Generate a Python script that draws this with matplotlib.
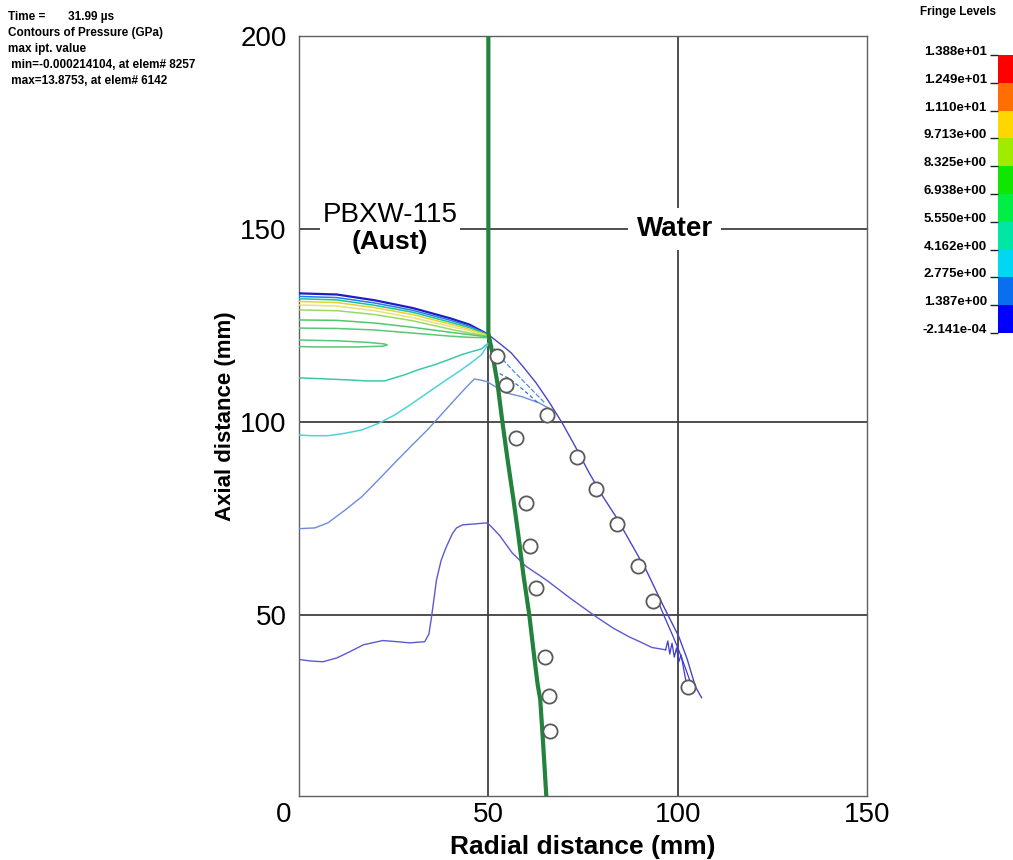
import numpy as np
import matplotlib
matplotlib.use("Agg")
import matplotlib.pyplot as plt
import matplotlib.transforms as mtransforms
from matplotlib.colors import ListedColormap

plt.rcParams['font.family'] = ['Liberation Sans', 'DejaVu Sans']

# ---- data (mm) ----
# material interface (green)
iface_x = [50, 50, 51, 52.4, 53.7, 55.1, 56.6, 58, 59.3, 60.8, 62, 63, 63.7, 64.5, 65.3]
iface_y = [200, 123, 118, 110, 100, 90, 80, 70, 60, 50, 40, 32, 28, 16, 3]

# test points (open circles)
circ_x = [52.4, 54.7, 65.5, 57.4, 73.4, 78.4, 84.0, 60.0, 61.1, 89.5, 62.6, 93.4, 65.0, 66.1, 66.3, 102.6]
circ_y = [117.1, 109.6, 101.8, 95.9, 90.9, 82.6, 73.6, 79.0, 67.9, 62.7, 57.0, 53.6, 39.1, 29.0, 19.9, 31.3]

# stacked contours near the detonation front in the explosive
stack_x = [0, 10, 20, 30, 40, 45, 50]
stack_y = {
    '#1c1cc8': [133.3, 133.0, 131.5, 129.5, 126.8, 125.2, 122.6],
    '#2a78e6': [132.5, 132.2, 130.8, 128.9, 126.3, 124.8, 122.6],
    '#10c896': [131.9, 131.6, 130.2, 128.4, 125.8, 124.4, 122.5],
    '#e6d232': [131.2, 130.9, 129.6, 127.8, 125.3, 124.0, 122.4],
    '#e8e27a': [130.3, 130.0, 128.8, 127.0, 124.7, 123.6, 122.3],
    '#96dc64': [129.0, 128.8, 127.8, 126.2, 124.0, 123.0, 122.2],
    '#50c86e': [126.4, 126.3, 125.6, 124.5, 123.2, 122.6, 122.0],
    '#58c878': [124.3, 124.2, 123.8, 123.0, 122.2, 121.9, 121.8],
}
tongue_x = [0, 10, 18, 22.5, 23.3, 22, 15, 5, 0]
tongue_y = [121.2, 121.0, 120.6, 120.2, 119.9, 119.6, 119.4, 119.4, 119.5]

teal_x = [0, 5, 12.1, 18, 22.6, 27.9, 31.5, 35.8, 39.5, 42.9, 46, 48.2, 50.3]
teal_y = [111.4, 111.2, 110.9, 110.6, 110.6, 112.2, 113.5, 114.8, 116.1, 117.4, 118.3, 118.9, 120.7]

cyan_x = [0, 3, 7.6, 12, 16.6, 21, 25.3, 29.5, 33.9, 38.5, 42.9, 46, 48.2, 50.3]
cyan_y = [96.6, 96.4, 96.4, 97, 97.9, 99.6, 101.8, 104.5, 107.5, 110.6, 113.5, 115.7, 117.4, 120.7]

lblue_x = [0, 4.2, 7.6, 12, 16.6, 21, 25.3, 29.5, 33.9, 37.5, 41.1, 44, 46.3, 48, 49.7,
           52, 54.7, 58.9, 63.4, 66]
lblue_y = [72.3, 72.5, 73.8, 77, 80.6, 85, 89.4, 93.6, 97.9, 101.8, 105.7, 108.8, 111.1, 110.8, 110.4,
           109, 107.5, 106.5, 104.9, 103.5]

low_x = [0, 3, 6.3, 10, 13.4, 17, 22.1, 26, 29.2, 33.2, 34.3, 35, 36.3, 37.5, 38.9, 40.5, 41.6, 43.2,
         46, 49.5, 50.3, 53, 56.3, 60, 65.3, 72, 78.4, 83, 87.1, 90, 93.2, 96.8]
low_y = [38.4, 38.0, 37.8, 38.8, 40.4, 42.2, 43.3, 43.0, 42.7, 43.0, 45, 49.5, 59, 64, 67.6, 71, 72.5, 73.3,
         73.5, 73.8, 73.3, 70.5, 66, 62.5, 59, 54, 49.5, 46.5, 44.3, 43, 41.5, 40.9]

# lead shock in water
front_x = [50, 53, 56, 59, 62.6, 66, 69.5, 73, 76.6, 80, 83.7, 87.5, 91.6, 95.8, 100.3, 102.5, 104.7, 106.3]
front_y = [122.6, 120.3, 117.9, 114.5, 110.1, 105.2, 99.7, 93.5, 86.8, 81, 75.4, 68.8, 61.7, 53.1, 44.3,
           38.5, 31.3, 28.5]

# noisy short contours behind the shock
noise_a_x = [50.5, 53, 56, 59, 62, 65]
noise_a_y = [120.5, 117, 113.8, 110.8, 107.8, 104.8]
noise_b_x = [53, 55.5, 58, 60.5, 63]
noise_b_y = [112.5, 111.2, 109.3, 107.2, 105]
noise_c_x = [95.2, 96.8, 98.5, 100.2, 101.8, 103.4]
noise_c_y = [52.5, 48.8, 45, 41, 36.8, 32.4]
noise_d_x = [96.8, 97.4, 97.9, 98.5, 99.1, 99.7, 100.3, 100.9, 101.6, 102.1]
noise_d_y = [40.9, 43.2, 39.8, 42.6, 39.0, 41.4, 37.8, 39.6, 35.8, 33.2]

# fringe levels / colour bar
levels = [-2.141e-04, 1.387, 2.775, 4.162, 5.550, 6.938, 8.325, 9.713, 11.10, 12.49, 13.88]
level_labels = ['-2.141e-04', '1.387e+00', '2.775e+00', '4.162e+00', '5.550e+00', '6.938e+00',
                '8.325e+00', '9.713e+00', '1.110e+01', '1.249e+01', '1.388e+01']
band_colors = ['#0000ff', '#0a6ef0', '#00d7f5', '#00e6a5', '#00ef46', '#10e600',
               '#a0eb00', '#ffd700', '#ff6e00', '#ff0000']

info_lines = ['Time =       31.99 \u00b5s',
              'Contours of Pressure (GPa)',
              'max ipt. value',
              ' min=-0.000214104, at elem# 8257',
              ' max=13.8753, at elem# 6142']

# ---- figure ----
fig = plt.figure(figsize=(10.13, 8.6), dpi=100)
ax = fig.add_axes([0.2952, 0.0744, 0.5607, 0.8837])
ax.set_xlim(0, 150)
ax.set_ylim(3, 200)

grid_c = '#404040'
for gx in [50, 100]:
    ax.axvline(gx, color=grid_c, lw=1.3, zorder=1)
for gy in [50, 100, 150]:
    ax.axhline(gy, color=grid_c, lw=1.3, zorder=1)

for c, ys in stack_y.items():
    ax.plot(stack_x, ys, color=c, lw=1.6 if c == '#1c1cc8' else 1.1, zorder=3)
ax.plot(tongue_x, tongue_y, color='#58c878', lw=1.1, zorder=3)
ax.plot(teal_x, teal_y, color='#3cc8aa', lw=1.1, zorder=3)
ax.plot(cyan_x, cyan_y, color='#50d2dc', lw=1.1, zorder=3)
ax.plot(lblue_x, lblue_y, color='#6e8cdc', lw=1.0, zorder=3)
ax.plot(low_x, low_y, color='#5a5ad2', lw=1.0, zorder=3)
ax.plot(front_x, front_y, color='#4646c8', lw=1.0, zorder=3)
ax.plot(noise_a_x, noise_a_y, color='#4a8ee6', lw=0.9, ls=(0, (4, 1.5)), zorder=3)
ax.plot(noise_b_x, noise_b_y, color='#3a6ee0', lw=0.9, ls=(0, (3, 2)), zorder=3)
ax.plot(noise_c_x, noise_c_y, color='#3c3cd2', lw=0.9, zorder=3)
ax.plot(noise_d_x, noise_d_y, color='#3c3cd2', lw=0.9, zorder=3)

ax.plot(iface_x, iface_y, color='#23823c', lw=3, zorder=4)
ax.scatter(circ_x, circ_y, s=105, facecolors='white', edgecolors='#5a5a5a', linewidths=1.3, zorder=5)

box = dict(facecolor='white', edgecolor='none', pad=2)
ax.text(24, 153.6, 'PBXW-115', fontsize=20, ha='center', va='center', bbox=box, zorder=6)
ax.text(24, 146.6, '(Aust)', fontsize=19, fontweight='bold', ha='center', va='center', zorder=6)
ax.text(99.2, 150, 'Water', fontsize=20, fontweight='bold', ha='center', va='center',
        bbox=dict(facecolor='white', edgecolor='none', pad=6), zorder=6)

for s in ax.spines.values():
    s.set_color('#606060')
    s.set_linewidth(1.0)
ax.set_xticks([0, 50, 100, 150])
ax.set_yticks([50, 100, 150, 200])
ax.tick_params(axis='y', length=0, labelsize=20, pad=9)
ax.tick_params(axis='x', length=0, labelsize=20, pad=4)
lab0 = ax.get_xticklabels()[0]
lab0.set_transform(lab0.get_transform() + mtransforms.ScaledTranslation(-0.15, 0, fig.dpi_scale_trans))
ax.set_xlabel('Radial distance (mm)', fontsize=19, fontweight='bold', labelpad=5)
ax.set_ylabel('Axial distance (mm)', fontsize=16, fontweight='bold', labelpad=3)

# info block
for i, t in enumerate(info_lines):
    fig.text(8 / 1013, 1 - (17 + 16 * i) / 860, t, fontsize=8.5, fontweight='bold', va='center', ha='left')

# colour bar
cax = fig.add_axes([998 / 1013, 1 - 333 / 860, 15 / 1013, 278 / 860])
cmap = ListedColormap(band_colors)
cax.pcolormesh([0, 1], levels, np.arange(10).reshape(-1, 1), cmap=cmap, vmin=-0.5, vmax=9.5)
cax.set_xlim(0, 1)
cax.set_ylim(levels[0], levels[-1])
for s in cax.spines.values():
    s.set_visible(False)
cax.set_xticks([])
cax.set_yticks(levels)
cax.tick_params(axis='y', length=6, width=1, color='#202020', labelleft=False, direction='out')
for v, t in zip(levels, level_labels):
    cax.text(-0.75, v, t, transform=cax.get_yaxis_transform(), fontsize=9.5, fontweight='bold',
             ha='right', va='baseline')
fig.text(958 / 1013, 1 - 12 / 860, 'Fringe Levels', fontsize=8.5, fontweight='bold', ha='center', va='center')

fig.savefig('out.png', dpi=100)
